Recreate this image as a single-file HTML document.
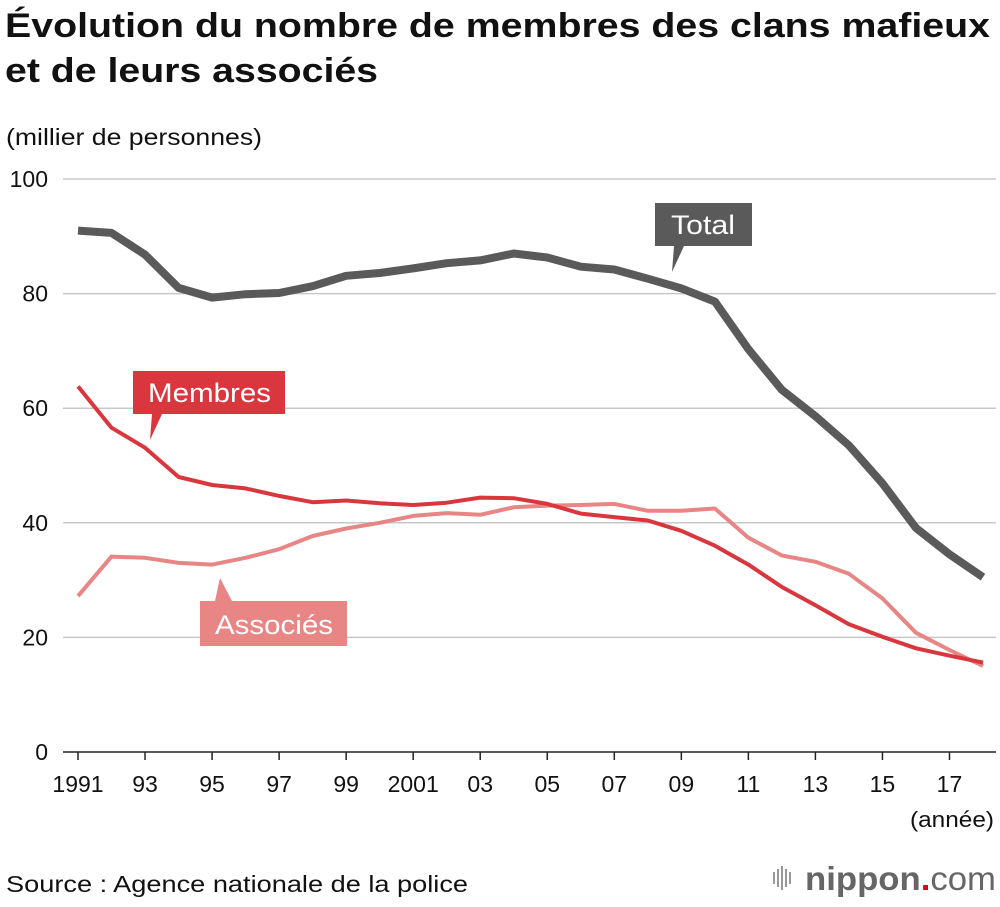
<!DOCTYPE html>
<html><head><meta charset="utf-8"><style>
body{margin:0;background:#fff;font-family:"Liberation Sans",sans-serif;}
svg text{font-family:"Liberation Sans",sans-serif;}
</style></head><body>
<svg id="chart" width="1000" height="902" viewBox="0 0 1000 902" xmlns="http://www.w3.org/2000/svg">
<text x="5" y="37" font-size="34" font-weight="bold" fill="#111" textLength="985" lengthAdjust="spacingAndGlyphs">Évolution du nombre de membres des clans mafieux</text>
<text x="5" y="82" font-size="34" font-weight="bold" fill="#111" textLength="373" lengthAdjust="spacingAndGlyphs">et de leurs associés</text>
<text x="6" y="145" font-size="23" fill="#111" textLength="256" lengthAdjust="spacingAndGlyphs">(millier de personnes)</text>
<g id="grid"></g>
<g id="series"></g>
<text x="910" y="827" font-size="22" fill="#111" textLength="84" lengthAdjust="spacingAndGlyphs">(année)</text>
<text x="6" y="892" font-size="23" fill="#111" textLength="462" lengthAdjust="spacingAndGlyphs">Source : Agence nationale de la police</text>
<g>
<g fill="#999"><rect x="773" y="872" width="2" height="12"/><rect x="777" y="869" width="2" height="18"/><rect x="781" y="866" width="2" height="24"/><rect x="785" y="869" width="2" height="18"/><rect x="789" y="872" width="2" height="12"/></g>
<text x="805" y="890" font-size="33" font-weight="bold" fill="#666" textLength="191" lengthAdjust="spacingAndGlyphs">nippon<tspan fill="#e60012">.</tspan><tspan font-weight="normal">com</tspan></text>
</g>
<g><path d="M655 203H752V246H684L672 272L674 246H655Z" fill="#5a5a5a"/><text x="671" y="234" font-size="27" fill="#fff" textLength="64" lengthAdjust="spacingAndGlyphs">Total</text></g>
<g><path d="M133 371H285V414H162L150 440L152 414H133Z" fill="#d9363e"/><text x="148" y="402" font-size="27" fill="#fff" textLength="123" lengthAdjust="spacingAndGlyphs">Membres</text></g>
<g><path d="M200 601H347V646H200V601H215L220 578L232 601Z" fill="#e88585"/><text x="215" y="634" font-size="27" fill="#fff" textLength="118" lengthAdjust="spacingAndGlyphs">Associés</text></g>
</svg>
<script>
const years=[1991,1992,1993,1994,1995,1996,1997,1998,1999,2000,2001,2002,2003,2004,2005,2006,2007,2008,2009,2010,2011,2012,2013,2014,2015,2016,2017,2018];
const total=[91.0,90.6,86.8,81.0,79.3,79.9,80.1,81.3,83.1,83.6,84.4,85.3,85.8,87.0,86.3,84.7,84.2,82.6,80.9,78.6,70.3,63.2,58.6,53.5,46.9,39.1,34.5,30.5];
const membres=[63.8,56.6,53.1,48.0,46.6,46.0,44.7,43.6,43.9,43.4,43.1,43.5,44.4,44.3,43.3,41.6,41.0,40.4,38.6,36.0,32.7,28.8,25.6,22.3,20.1,18.1,16.8,15.6];
const associes=[27.2,34.1,33.9,33.0,32.7,33.9,35.4,37.7,39.0,40.0,41.2,41.7,41.4,42.7,43.0,43.1,43.3,42.1,42.1,42.5,37.4,34.3,33.2,31.1,26.8,20.8,17.8,15.0];
const yTicks=[0,20,40,60,80,100];
const xTickYears=[1991,1993,1995,1997,1999,2001,2003,2005,2007,2009,2011,2013,2015,2017];
const xTickLabels=["1991","93","95","97","99","2001","03","05","07","09","11","13","15","17"];
const NS="http://www.w3.org/2000/svg";
const x=yr=>78+(yr-1991)*(983-78)/27;
const y=v=>752-v*(752-179)/100;
const grid=document.getElementById('grid'),series=document.getElementById('series');
function mk(tag,attrs,parent){const e=document.createElementNS(NS,tag);for(const k in attrs)e.setAttribute(k,attrs[k]);parent.appendChild(e);return e;}
yTicks.forEach(t=>{
 const l=mk('line',{x1:63,x2:996,y1:y(t),y2:y(t),stroke:t===0?'#222':'#c8c8c8','stroke-width':1.5},grid);
 
 
 const tx=mk('text',{x:48,y:y(t)+8,'font-size':23,'text-anchor':'end',fill:'#111'},grid);
 tx.textContent=t;
 
 
});
xTickYears.forEach((yr,i)=>{
 mk('line',{x1:x(yr),x2:x(yr),y1:752,y2:760,stroke:'#222','stroke-width':1.5},grid);
 const tx=mk('text',{x:x(yr),y:792,'font-size':23,'text-anchor':'middle',fill:'#111'},grid);
 tx.textContent=xTickLabels[i];
 
 
});
function line(vals,color,w,name){
 const d=vals.map((v,i)=>(i?'L':'M')+x(years[i]).toFixed(1)+' '+y(v).toFixed(1)).join('');
 const p=mk('path',{d:d,fill:'none',stroke:color,'stroke-width':w,'stroke-linejoin':'round'},series);
 
 
}
line(associes,'#e88585',4,'associes-line');
line(membres,'#d9363e',4,'membres-line');
line(total,'#5a5a5a',8,'total-line');
</script>
</body></html>
